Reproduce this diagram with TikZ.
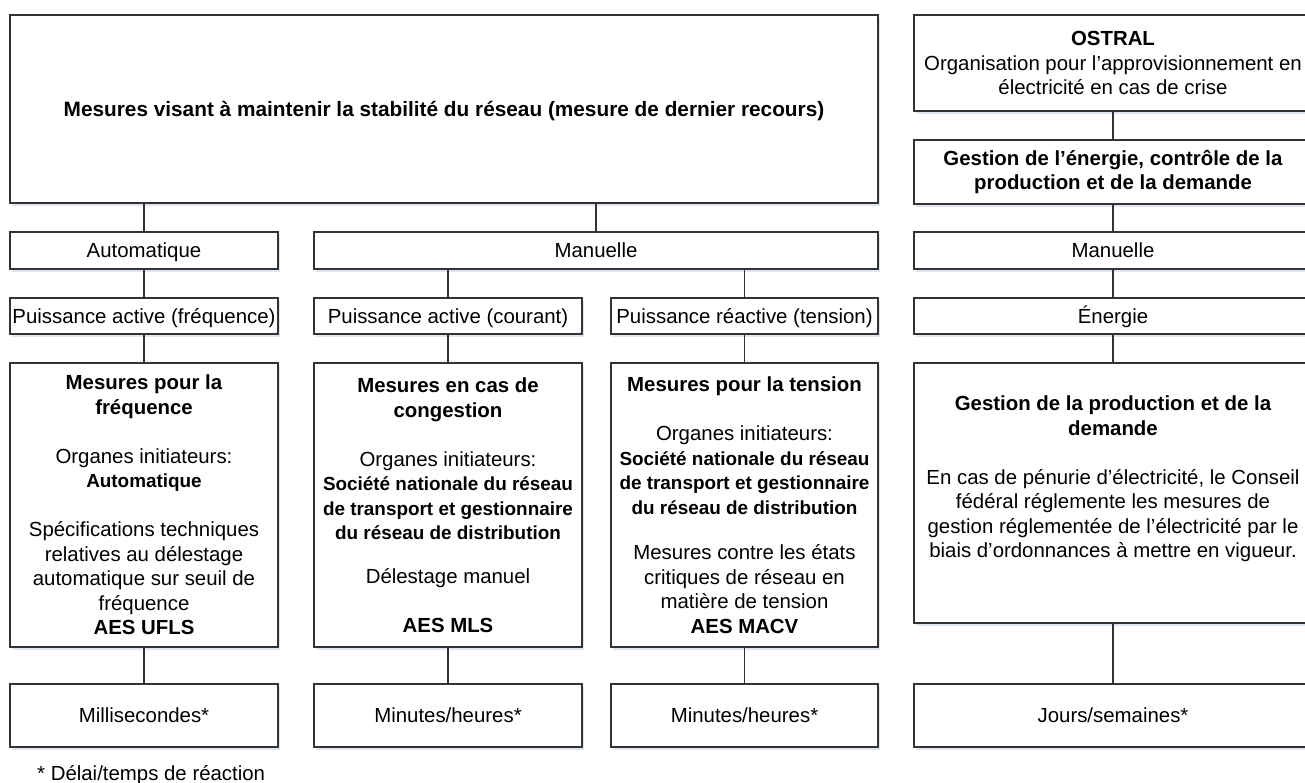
\documentclass[tikz,border=0pt]{standalone}
\usepackage{fontspec}
\setmainfont{Liberation Sans}
\usetikzlibrary{shadows}
\definecolor{shadowc}{HTML}{DDE6F1}
\definecolor{linec}{HTML}{333333}
\newcommand{\orgfont}{\bfseries\fontsize{18.9}{23}\selectfont}
\begin{document}
\begin{tikzpicture}[x=1pt,y=-1pt,
  box/.style={draw=linec, line width=1.1pt, fill=white, rectangle, align=center, inner sep=2pt,
    font=\fontsize{20.4}{24.5}\selectfont,
    drop shadow={shadow xshift=2pt,shadow yshift=-3pt,fill=shadowc,opacity=1}},
  oneline/.style={text height=14.6pt, text depth=0pt},
  link/.style={draw=linec, line width=1.1pt}]
\useasboundingbox (0,0) rectangle (1305,783);
\fill[white] (0,0) rectangle (1305,783);

% row 1
\node[box, oneline, minimum width=868pt, minimum height=188pt, font=\fontsize{20.8}{24.5}\selectfont] (top) at (444,109)
  {\textbf{Mesures visant à maintenir la stabilité du réseau (mesure de dernier recours)}};
\node[box, minimum width=398pt, minimum height=96pt] (ostral) at (1113,63)
  {\textbf{OSTRAL}\\Organisation pour l’approvisionnement en\\électricité en cas de crise};
\node[box, minimum width=398pt, minimum height=64pt] (gest) at (1113,172)
  {\textbf{Gestion de l’énergie, contrôle de la}\\\textbf{production et de la demande}};

% row 2
\node[box, oneline, minimum width=268pt, minimum height=37pt] (auto) at (144,250.5) {Automatique};
\node[box, oneline, minimum width=564pt, minimum height=37pt] (man) at (596,250.5) {Manuelle};
\node[box, oneline, minimum width=398pt, minimum height=37pt] (man4) at (1113,250.5) {Manuelle};

% row 3
\node[box, oneline, minimum width=268pt, minimum height=36pt] (pa1) at (144,316) {Puissance active (fréquence)};
\node[box, oneline, minimum width=268pt, minimum height=36pt] (pa2) at (448,316) {Puissance active (courant)};
\node[box, oneline, minimum width=267pt, minimum height=36pt] (pr3) at (744.5,316) {Puissance réactive (tension)};
\node[box, oneline, minimum width=398pt, minimum height=36pt] (en4) at (1113,316) {Énergie};

% row 4
\node[box, minimum width=268pt, minimum height=284pt] (m1) at (144,505)
  {\textbf{Mesures pour la}\\\textbf{fréquence}\\[24.5pt]Organes initiateurs:\\{\orgfont Automatique}\\[24.5pt]Spécifications techniques\\relatives au délestage\\automatique sur seuil de\\fréquence\\\textbf{AES UFLS}};
\node[box, minimum width=268pt, minimum height=284pt] (m2) at (448,505)
  {\textbf{Mesures en cas de}\\\textbf{congestion}\\[24.5pt]Organes initiateurs:\\{\orgfont Société nationale du réseau}\\{\orgfont de transport et gestionnaire}\\{\orgfont du réseau de distribution}\\[19pt]Délestage manuel\\[24.5pt]\textbf{AES MLS}};
\node[box, minimum width=267pt, minimum height=284pt] (m3) at (744.5,505)
  {\textbf{Mesures pour la tension}\\[24.5pt]Organes initiateurs:\\{\orgfont Société nationale du réseau}\\{\orgfont de transport et gestionnaire}\\{\orgfont du réseau de distribution}\\[21pt]Mesures contre les états\\critiques de réseau en\\matière de tension\\\textbf{AES MACV}};
\node[box, minimum width=398pt, minimum height=260pt] (m4) at (1113,493)
  {\textbf{Gestion de la production et de la}\\\textbf{demande}\\[24.5pt]En cas de pénurie d’électricité, le Conseil\\fédéral réglemente les mesures de\\gestion réglementée de l’électricité par le\\biais d’ordonnances à mettre en vigueur.\\\strut};

% row 5
\node[box, oneline, minimum width=268pt, minimum height=63pt] (b1) at (144,715.5) {Millisecondes*};
\node[box, oneline, minimum width=268pt, minimum height=63pt] (b2) at (448,715.5) {Minutes/heures*};
\node[box, oneline, minimum width=267pt, minimum height=63pt] (b3) at (744.5,715.5) {Minutes/heures*};
\node[box, oneline, minimum width=398pt, minimum height=63pt] (b4) at (1113,715.5) {Jours/semaines*};

\node[font=\fontsize{20.4}{24.5}\selectfont, anchor=base west, inner sep=0pt] (note) at (37,780) {* Délai/temps de réaction};

% connectors
\draw[link] (top.south -| auto.north) -- (auto.north);
\draw[link] (top.south -| man.north) -- (man.north);
\draw[link] (auto.south) -- (pa1.north);
\draw[link] (man.south -| pa2.north) -- (pa2.north);
\draw[link] (man.south -| pr3.north) -- (pr3.north);
\draw[link] (pa1.south) -- (m1.north);
\draw[link] (pa2.south) -- (m2.north);
\draw[link] (pr3.south) -- (m3.north);
\draw[link] (m1.south) -- (b1.north);
\draw[link] (m2.south) -- (b2.north);
\draw[link] (m3.south) -- (b3.north);
\draw[link] (ostral.south) -- (gest.north);
\draw[link] (gest.south) -- (man4.north);
\draw[link] (man4.south) -- (en4.north);
\draw[link] (en4.south) -- (m4.north);
\draw[link] (m4.south) -- (b4.north);
\end{tikzpicture}
\end{document}
